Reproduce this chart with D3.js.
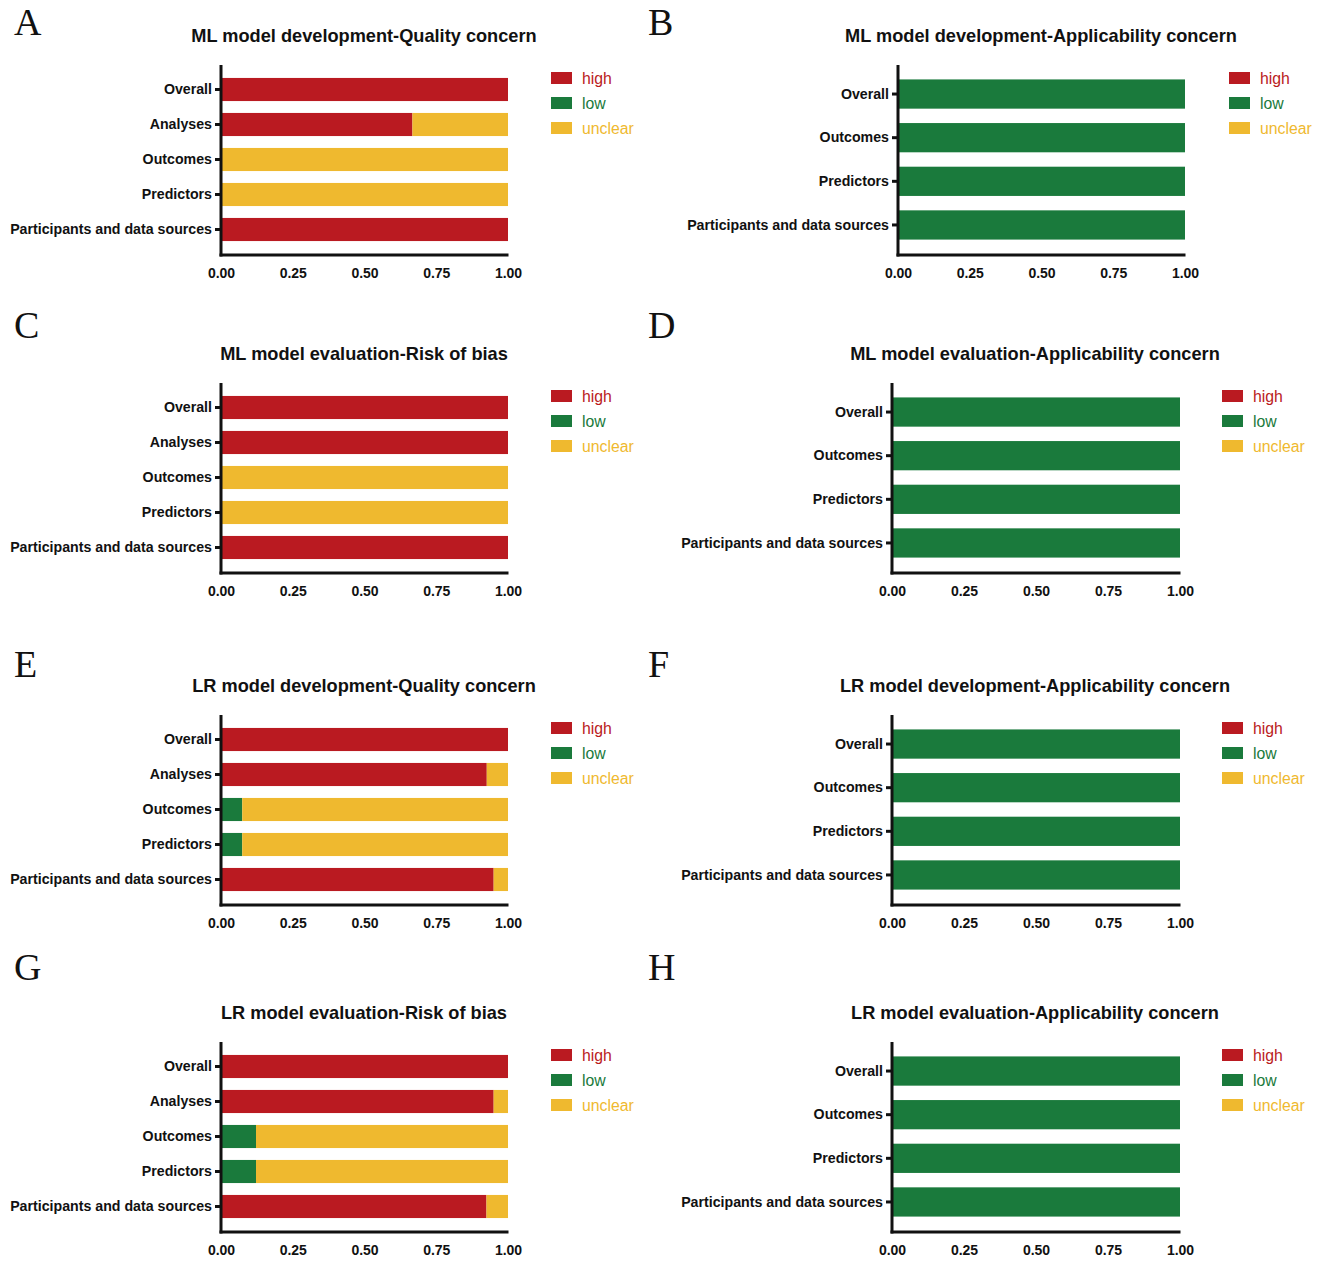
<!DOCTYPE html>
<html>
<head>
<meta charset="utf-8">
<script src="https://cdn.jsdelivr.net/npm/d3@7"></script>
<style>
  body { margin: 0; background: #fff; }
  svg { display: block; }
</style>
</head>
<body>
<svg id="chart" width="1320" height="1264"></svg>
<script>
// ---- Data ----
const catsQuality = ["Overall", "Analyses", "Outcomes", "Predictors", "Participants and data sources"];
const catsApplic = ["Overall", "Outcomes", "Predictors", "Participants and data sources"];
const seriesNames = ["high", "low", "unclear"];
const seriesColors = ["#BA1A21", "#1A7A3C", "#EFB92F"];
const xTicks = [0, 0.25, 0.5, 0.75, 1];

const titles = [
  "ML model development-Quality concern",
  "ML model development-Applicability concern",
  "ML model evaluation-Risk of bias",
  "ML model evaluation-Applicability concern",
  "LR model development-Quality concern",
  "LR model development-Applicability concern",
  "LR model evaluation-Risk of bias",
  "LR model evaluation-Applicability concern"
];
const letters = ["A", "B", "C", "D", "E", "F", "G", "H"];

// per panel: high / low / unclear proportions
const highA = [1, 0.667, 0, 0, 1];
const lowA = [0, 0, 0, 0, 0];
const unclearA = [0, 0.333, 1, 1, 0];

const highB = [0, 0, 0, 0];
const lowB = [1, 1, 1, 1];
const unclearB = [0, 0, 0, 0];

const highC = [1, 1, 0, 0, 1];
const lowC = [0, 0, 0, 0, 0];
const unclearC = [0, 0, 1, 1, 0];

const highD = [0, 0, 0, 0];
const lowD = [1, 1, 1, 1];
const unclearD = [0, 0, 0, 0];

const highE = [1, 0.926, 0, 0, 0.95];
const lowE = [0, 0, 0.074, 0.074, 0];
const unclearE = [0, 0.074, 0.926, 0.926, 0.05];

const highF = [0, 0, 0, 0];
const lowF = [1, 1, 1, 1];
const unclearF = [0, 0, 0, 0];

const highG = [1, 0.95, 0, 0, 0.925];
const lowG = [0, 0, 0.122, 0.122, 0];
const unclearG = [0, 0.05, 0.878, 0.878, 0.075];

const highH = [0, 0, 0, 0];
const lowH = [1, 1, 1, 1];
const unclearH = [0, 0, 0, 0];

const panelCats = [catsQuality, catsApplic, catsQuality, catsApplic, catsQuality, catsApplic, catsQuality, catsApplic];
const panelSeries = [
  [highA, lowA, unclearA], [highB, lowB, unclearB],
  [highC, lowC, unclearC], [highD, lowD, unclearD],
  [highE, lowE, unclearE], [highF, lowF, unclearF],
  [highG, lowG, unclearG], [highH, lowH, unclearH]
];

// ---- Layout ----
const rowTop = [0, 318, 650, 977];
const letterBase = [35, 338, 677, 980];
const colLayout = [
  { x0: 221, x1: 508, legX: 551, titleX: 364, letterX: 14 },
  { x0: 898, x1: 1185, legX: 1229, titleX: 1041, letterX: 648 },
  { x0: 892, x1: 1180, legX: 1222, titleX: 1035, letterX: 648 }
];

const svg = d3.select("#chart");
const font = '"Liberation Sans", Arial, sans-serif';

titles.forEach((title, i) => {
  const row = Math.floor(i / 2), col = i % 2;
  const L = (col === 0) ? colLayout[0] : (row === 0 ? colLayout[1] : colLayout[2]);
  const top = rowTop[row];
  const g = svg.append("g").attr("transform", `translate(0,${top})`);

  // letter
  svg.append("text")
    .attr("x", L.letterX).attr("y", letterBase[row])
    .attr("font-family", '"Liberation Serif", "Times New Roman", serif')
    .attr("font-size", 38)
    .attr("fill", "#111")
    .text(letters[i]);

  // title
  g.append("text")
    .attr("x", L.titleX).attr("y", 41.5)
    .attr("text-anchor", "middle")
    .attr("font-family", font).attr("font-weight", "bold")
    .attr("font-size", 18.2).attr("fill", "#111")
    .text(title);

  const cats = panelCats[i];
  const vals = panelSeries[i];
  const x = d3.scaleLinear().domain([0, 1]).range([L.x0, L.x1]);
  const y = d3.scaleBand().domain(cats).range([72, 247]).paddingInner(cats.length === 5 ? 0.34 : 0.33).paddingOuter(0.17);

  // stacked data
  const rows = cats.map((c, k) => {
    const o = { cat: c };
    seriesNames.forEach((s, j) => o[s] = vals[j][k]);
    return o;
  });
  const stack = d3.stack().keys(seriesNames)(rows);

  stack.forEach((layer, j) => {
    g.append("g").selectAll("rect")
      .data(layer.filter(d => d[1] - d[0] > 0))
      .join("rect")
      .attr("x", d => x(d[0]))
      .attr("width", d => x(d[1]) - x(d[0]))
      .attr("y", d => y(d.data.cat))
      .attr("height", y.bandwidth())
      .attr("fill", seriesColors[j]);
  });

  // y axis
  const yAx = g.append("g")
    .attr("transform", `translate(${L.x0},0)`)
    .call(d3.axisLeft(y).tickSize(6).tickSizeOuter(0).tickPadding(3));
  yAx.select(".domain").remove();
  yAx.selectAll(".tick line").attr("stroke", "#111").attr("stroke-width", 3);
  yAx.selectAll(".tick text")
    .attr("font-family", font).attr("font-weight", "bold")
    .attr("font-size", 14.2).attr("fill", "#111");
  g.append("line")
    .attr("x1", L.x0).attr("x2", L.x0)
    .attr("y1", 65).attr("y2", 256.5)
    .attr("stroke", "#111").attr("stroke-width", 3);

  // x axis
  const xAx = g.append("g")
    .attr("transform", "translate(0,255)")
    .call(d3.axisBottom(x).tickValues(xTicks).tickFormat(d3.format(".2f")).tickSize(0).tickPadding(13));
  xAx.select(".domain").attr("stroke", "#111").attr("stroke-width", 3)
    .attr("d", `M${L.x0 - 1.5},0H${L.x1 + 0.5}`);
  xAx.selectAll(".tick text")
    .attr("font-family", font).attr("font-weight", "bold")
    .attr("font-size", 14).attr("fill", "#111");

  // legend
  const leg = g.append("g");
  seriesNames.forEach((s, j) => {
    const ly = 78 + j * 25;
    leg.append("rect")
      .attr("x", L.legX).attr("y", ly - 6)
      .attr("width", 21).attr("height", 12)
      .attr("fill", seriesColors[j]);
    leg.append("text")
      .attr("x", L.legX + 31).attr("y", ly)
      .attr("dy", "0.35em")
      .attr("font-family", font).attr("font-size", 15.8)
      .attr("fill", seriesColors[j])
      .text(s);
  });
});
</script>
</body>
</html>
